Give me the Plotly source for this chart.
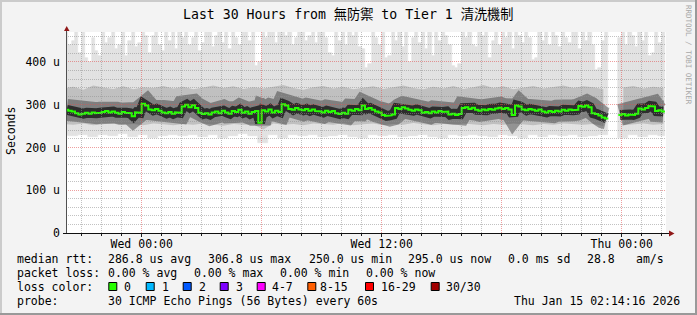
import plotly.graph_objects as go
from datetime import datetime, timedelta

# ---------------- data ----------------
title_text = "Last 30 Hours from 無防禦 to Tier 1 清洗機制"
x_start = datetime(2026, 1, 13, 20, 13)
x_end = datetime(2026, 1, 15, 2, 13)
bin10_start = datetime(2026, 1, 13, 20, 10)   # 10-minute bins
bin30_start = datetime(2026, 1, 13, 19, 50)   # 30-minute bins

# median rtt (us), 10-minute bins
median_us = [
    288, 286, 284, 280, 277, 279, 281, 279, 282, 280,
    281, 283, 285, 282, 284, 281, 279, 283, 281, 280,
    273, 282, 281, 302, 298, 289, 287, 290, 286, 282,
    280, 283, 279, 282, 281, 296, 300, 294, 299, 292,
    281, 278, 280, 277, 282, 284, 280, 286, 282, 279,
    285, 283, 288, 281, 284, 279, 283, 285, 258, 287,
    284, 289, 282, 286, 283, 301, 298, 290, 288, 292,
    289, 287, 290, 286, 289, 285, 284, 282, 286, 283,
    285, 280, 278, 281, 279, 288, 286, 290, 287, 298,
    290, 292, 288, 284, 282, 276, 274, 275, 277, 292,
    290, 294, 291, 288, 286, 289, 287, 281, 283, 280,
    284, 282, 285, 283, 284, 277, 279, 276, 278, 292,
    294, 290, 293, 288, 286, 289, 287, 290, 288, 291,
    293, 290, 292, 289, 276, 298, 296, 289, 287, 290,
    288, 286, 289, 284, 282, 285, 283, 286, 284, 288,
    286, 289, 287, 288, 297, 295, 298, 294, 280, 278,
    275, 270, 268, None, None, None, 276, 278, 275, 277,
    276, 279, 291, 289, 292, 297, 296, 285, 287, 284,
]

# highest ping (us), 10-minute bins (470 = clipped at top)
ping_max_us = [
    470, 440, 450, 470, 420, 470, 410, 400, 455, 425,
    415, 470, 445, 455, 470, 430, 440, 470, 415, 450,
    470, 435, 445, 470, 460, 420, 460, 470, 440, 425,
    470, 450, 470, 430, 470, 455, 470, 440, 455, 470,
    425, 445, 470, 470, 435, 460, 470, 445, 470, 430,
    470, 455, 440, 470, 470, 450, 470, 390, 400, 470,
    455, 470, 470, 445, 470, 470, 460, 470, 440, 455,
    470, 470, 450, 460, 470, 445, 470, 470, 455, 420,
    415, 470, 450, 470, 440, 470, 460, 470, 435, 430,
    385, 395, 470, 455, 440, 470, 410, 415, 470, 450,
    470, 435, 470, 400, 455, 470, 445, 470, 430, 470,
    415, 470, 450, 470, 460, 440, 390, 385, 395, 470,
    455, 470, 440, 435, 470, 460, 470, 410, 450, 470,
    440, 470, 455, 470, 430, 470, 460, 445, 470, 455,
    405, 410, 470, 450, 470, 440, 470, 460, 435, 470,
    455, 445, 470, 470, 430, 470, 450, 470, 440, 380,
    385, 450, 470, None, None, None, 455, 470, 440, 470,
    460, 435, 470, 450, 470, 415, 420, 470, 445, 470,
]

# lowest ping (us), 30-minute bins
ping_min_us = [
    228, 226, 230, 224, 229, 227, 231, 225, 228, 222,
    227, 230, 226, 229, 224, 228, 222, 226, 231, 227,
    210, 229, 223, 228, 226, 230, 224, 227, 229, 225,
    221, 228, 226, 230, 224, 227, 229, 225, 222, 228,
    226, 230, 227, 224, 229, 226, 223, 228, 225, 230,
    226, 229, 224, 227, 230, None, 222, 228, 225, 229,
    227,
]

# lower / upper edge of the dense smoke (us), 30-minute bins
band_low_us = [
    255, 253, 256, 252, 254, 257, 253, 255, 252, 256,
    254, 252, 255, 253, 256, 254, 251, 255, 253, 254,
    242, 256, 253, 255, 252, 256, 254, 253, 257, 252,
    254, 256, 252, 255, 253, 257, 254, 252, 255, 253,
    256, 254, 252, 255, 253, 256, 254, 252, 255, 253,
    256, 254, 253, 255, 250, None, 252, 254, 256, 253,
    255,
]
band_high_us = [
    338, 342, 335, 345, 340, 337, 343, 336, 341, 339,
    344, 338, 342, 336, 340, 345, 339, 343, 337, 341,
    338, 342, 346, 339, 335, 341, 344, 338, 342, 336,
    340, 343, 337, 341, 345, 339, 336, 342, 338, 344,
    337, 341, 346, 339, 343, 336, 340, 344, 338, 342,
    345, 339, 343, 341, 336, None, 340, 344, 338, 342,
    339,
]

x_tick_times = [datetime(2026, 1, 14, 0, 0), datetime(2026, 1, 14, 12, 0), datetime(2026, 1, 15, 0, 0)]
x_tick_labels = ["Wed 00:00", "Wed 12:00", "Thu 00:00"]
y_max = 470
y_tick_vals = [0, 100, 200, 300, 400]
y_tick_labels = ["0", "100 u", "200 u", "300 u", "400 u"]

rtt_stats = {"avg": 286.8, "max": 306.8, "min": 250.0, "now": 295.0}
rtt_sd_ms = 0.0
rtt_ams = 28.8
loss_stats = {"avg": 0.00, "max": 0.00, "min": 0.00, "now": 0.00}
loss_labels = ["0", "1", "2", "3", "4-7", "8-15", "16-29", "30/30"]
loss_colors = ["#26ff00", "#00b8ff", "#0059ff", "#7e00ff", "#ff00ff", "#ff5e00", "#ff0000", "#a10000"]
probe_text = "30 ICMP Echo Pings (56 Bytes) every 60s"
stamp_text = "Thu Jan 15 02:14:16 2026"

# ---------------- layout geometry (pixels) ----------------
W, H = 697, 315
L, R, T, B = 66, 666, 32, 233
MONO = "DejaVu Sans Mono, Noto Sans CJK TC, monospace"


def px(x):
    return (x - L) / (R - L)


def py(y):
    return (B - y) / (B - T)


span_s = (x_end - x_start).total_seconds()


def time_px(t):
    return L + (t - x_start).total_seconds() / span_s * (R - L)


def val_py(v):
    return B - v / y_max * (B - T)


# ---------------- traces ----------------
fig = go.Figure()

t10 = [bin10_start + timedelta(minutes=10 * i) for i in range(len(median_us) + 1)]
c10 = [t + timedelta(minutes=5) for t in t10[:-1]]

# light smoke: lowest .. highest ping
light_base, light_h = [], []
for i, top in enumerate(ping_max_us):
    k = (20 + 10 * i) // 30
    lo = ping_min_us[k] if k < len(ping_min_us) else None
    if top is None or lo is None:
        light_base.append(None)
        light_h.append(None)
    else:
        light_base.append(lo)
        light_h.append(top - lo)

fig.add_trace(go.Bar(x=c10, y=light_h, base=light_base, width=600000,
                     marker=dict(color="#e2e2e2", line=dict(width=0.6, color="#e2e2e2")),
                     hoverinfo="skip"))

# dense smoke band, drawn as filled area segments (split at missing data)
c30 = [bin30_start + timedelta(minutes=30 * k + 15) for k in range(len(band_low_us))]
segments, cur = [], []
for k in range(len(band_low_us)):
    if band_low_us[k] is None or band_high_us[k] is None:
        if cur:
            segments.append(cur)
        cur = []
    else:
        cur.append(k)
if cur:
    segments.append(cur)
BAND = "#c0c0c0"
for seg in segments:
    xs = [c30[k] for k in seg]
    fig.add_trace(go.Scatter(x=xs, y=[band_low_us[k] for k in seg], mode="lines",
                             line=dict(width=0, color=BAND), hoverinfo="skip"))
    fig.add_trace(go.Scatter(x=xs, y=[band_high_us[k] for k in seg], mode="lines", fill="tonexty",
                             fillcolor=BAND, line=dict(width=0, color=BAND), hoverinfo="skip"))

# dark core following the median
fig.add_trace(go.Scatter(x=c10, y=median_us, mode="lines", line=dict(color="rgba(30,30,30,0.40)", width=22),
                         hoverinfo="skip", connectgaps=False))
fig.add_trace(go.Scatter(x=c10, y=median_us, mode="lines", line=dict(color="rgba(10,10,10,0.70)", width=10),
                         hoverinfo="skip", connectgaps=False))

# median (stepped, loss colour 0)
mx, my = [], []
for i, v in enumerate(median_us):
    if v is None:
        mx.append(t10[i])
        my.append(None)
    else:
        mx += [t10[i], t10[i + 1]]
        my += [v, v]
fig.add_trace(go.Scatter(x=mx, y=my, mode="lines", line=dict(color=loss_colors[0], width=2),
                         hoverinfo="skip", connectgaps=False))

# ---------------- shapes: grid, axes, arrows, frame ----------------
shapes = []
MINOR = "rgba(143,143,143,0.55)"
MAJOR = "rgba(224,80,80,0.55)"
for v in range(20, y_max, 20):
    yy = int(val_py(v)) + 0.5
    shapes.append(dict(type="line", xref="paper", yref="paper", x0=px(L), x1=px(R), y0=py(yy), y1=py(yy),
                       line=dict(color=MAJOR if v % 100 == 0 else MINOR, width=1, dash="1px,1px"),
                       layer="above"))
t = datetime(2026, 1, 13, 21, 0)
while t < x_end:
    xx = int(time_px(t)) + 0.5
    shapes.append(dict(type="line", xref="paper", yref="paper", x0=px(xx), x1=px(xx), y0=py(B), y1=py(T),
                       line=dict(color=MAJOR if t.hour % 6 == 0 else MINOR, width=1, dash="1px,1px"),
                       layer="above"))
    t += timedelta(hours=1)

# axis lines
shapes.append(dict(type="line", xref="paper", yref="paper", x0=px(66.5), x1=px(66.5), y0=py(233.5), y1=py(29),
                   line=dict(color="#505050", width=1), layer="above"))
shapes.append(dict(type="line", xref="paper", yref="paper", x0=px(63), x1=px(670), y0=py(233.5), y1=py(233.5),
                   line=dict(color="#101010", width=1), layer="above"))


def path(points):
    return "M " + " L ".join(f"{px(a):.5f},{py(b):.5f}" for a, b in points) + " Z"


ARROW = "#901818"
shapes.append(dict(type="path", xref="paper", yref="paper", path=path([(64, 31), (69.5, 31), (66.7, 26)]),
                   fillcolor=ARROW, line=dict(width=0), layer="above"))
shapes.append(dict(type="path", xref="paper", yref="paper", path=path([(669, 230.5), (674.5, 233.5), (669, 236.5)]),
                   fillcolor=ARROW, line=dict(width=0), layer="above"))

# frame
shapes.append(dict(type="rect", xref="paper", yref="paper", x0=px(0), x1=px(W), y0=py(0), y1=py(2),
                   fillcolor="#cbcbcb", line=dict(width=0)))
shapes.append(dict(type="rect", xref="paper", yref="paper", x0=px(0), x1=px(2), y0=py(0), y1=py(H),
                   fillcolor="#cbcbcb", line=dict(width=0)))
shapes.append(dict(type="rect", xref="paper", yref="paper", x0=px(0), x1=px(W), y0=py(H - 2), y1=py(H),
                   fillcolor="#999999", line=dict(width=0)))
shapes.append(dict(type="rect", xref="paper", yref="paper", x0=px(W - 2), x1=px(W), y0=py(0), y1=py(H),
                   fillcolor="#999999", line=dict(width=0)))

# ---------------- text ----------------
ann = []


def text(s, x, y, size=11.5, anchor="left", color="#000000", angle=0, yanchor="middle"):
    ann.append(dict(text=s, x=px(x), y=py(y), xref="paper", yref="paper", showarrow=False,
                    xanchor=anchor, yanchor=yanchor, textangle=angle, borderpad=0,
                    font=dict(family=MONO, size=size, color=color)))


text(title_text, 348.5, 14.5, size=13.2, anchor="center")
text("Seconds", 11, 131, size=11.5, anchor="center", angle=-90)
text("RRDTOOL / TOBI OETIKER", 688, 4, size=7.5, anchor="center", color="#a8a8a8", angle=90, yanchor="top")

ROW = [259.3, 273.3, 287.2, 301.0]
row1 = [("median rtt:", 16),
        (f"{rtt_stats['avg']:.1f} us avg", 107.3),
        (f"{rtt_stats['max']:.1f} us max", 207.3),
        (f"{rtt_stats['min']:.1f} us min", 307.6),
        (f"{rtt_stats['now']:.1f} us now", 407.3),
        (f"{rtt_sd_ms:.1f} ms sd", 507.3),
        (f"{rtt_ams:.1f}", 586.0),
        ("am/s", 635.3)]
for s, x in row1:
    text(s, x, ROW[0])
row2 = [("packet loss:", 16),
        (f"{loss_stats['avg']:.2f} % avg", 107.3),
        (f"{loss_stats['max']:.2f} % max", 193.3),
        (f"{loss_stats['min']:.2f} % min", 279.3),
        (f"{loss_stats['now']:.2f} % now", 365.0)]
for s, x in row2:
    text(s, x, ROW[1])
text("loss color:", 16, ROW[2])
box_x = [108.3, 145.7, 182.7, 219.7, 256.7, 307.3, 365.0, 430.7]
lab_x = [123.3, 161.0, 197.7, 235.0, 271.0, 319.3, 380.0, 445.0]
for c, lbl, bx, lx in zip(loss_colors, loss_labels, box_x, lab_x):
    shapes.append(dict(type="rect", xref="paper", yref="paper", x0=px(bx + 0.5), x1=px(bx + 8.5),
                       y0=py(282.5), y1=py(290.5), fillcolor=c, line=dict(color="#000000", width=1)))
    text(lbl, lx, ROW[2])
text("probe:", 16, ROW[3])
text(probe_text, 107.3, ROW[3])
text(stamp_text, 513.3, ROW[3])

fig.update_layout(
    width=W, height=H,
    margin=dict(l=L, r=W - R, t=T, b=H - B, pad=0),
    paper_bgcolor="#f3f3f3", plot_bgcolor="#ffffff",
    showlegend=False, barmode="overlay", bargap=0,
    shapes=shapes, annotations=ann,
    xaxis=dict(type="date", range=[x_start, x_end], showgrid=False, zeroline=False, showline=False,
               tickmode="array", tickvals=x_tick_times, ticktext=x_tick_labels,
               ticks="outside", ticklen=3, tickcolor="#202020", ticklabelstandoff=-3,
               minor=dict(ticks="outside", ticklen=2, tickcolor="#202020", tickmode="linear",
                          tick0="2026-01-14 00:00", dtick=3600000, showgrid=False),
               tickfont=dict(family=MONO, size=11.5, color="#000000"), fixedrange=True),
    yaxis=dict(range=[0, y_max], showgrid=False, zeroline=False, showline=False,
               tickmode="array", tickvals=y_tick_vals, ticktext=y_tick_labels,
               ticks="", ticklabelstandoff=5,
               tickfont=dict(family=MONO, size=11.5, color="#000000"), fixedrange=True),
)

fig.write_html("out.html")
